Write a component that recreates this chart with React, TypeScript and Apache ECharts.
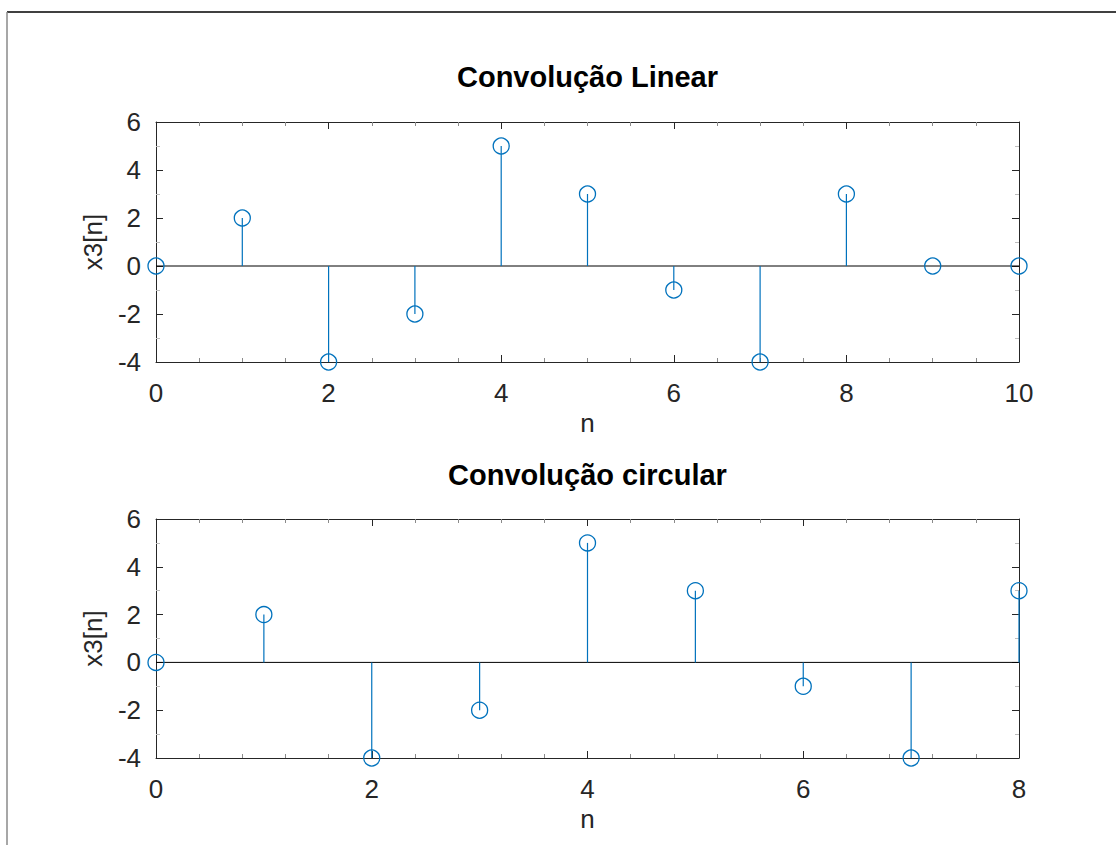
import React, { useEffect, useRef } from "react";
import * as echarts from "echarts";

const linearN = [0, 1, 2, 3, 4, 5, 6, 7, 8, 9, 10];
const linearX3 = [0, 2, -4, -2, 5, 3, -1, -4, 3, 0, 0];
const circularN = [0, 1, 2, 3, 4, 5, 6, 7, 8];
const circularX3 = [0, 2, -4, -2, 5, 3, -1, -4, 3];
const titles = ["Convolução Linear", "Convolução circular"];
const xLabel = "n";
const yLabel = "x3[n]";

const FONT = "'Liberation Sans', Arial, Helvetica, sans-serif";
const BLUE = "#0072BD";
const DARK = "#262626";

export default function App() {
  const ref = useRef<HTMLDivElement>(null);
  useEffect(() => {
    if (!ref.current) return;
    const chart = echarts.init(ref.current, undefined, { renderer: "svg" });

    const grids = [
      { left: 156, top: 122, width: 863, height: 240 },
      { left: 156, top: 519, width: 863, height: 239 },
    ];
    const xMax = [10, 8];
    const minorSplit = [4, 5];

    const xAxes: any[] = [];
    const yAxes: any[] = [];
    const series: any[] = [];

    [0, 1].forEach((g) => {
      const baseX = {
        type: "value",
        gridIndex: g,
        min: 0,
        max: xMax[g],
        interval: 2,
        splitLine: { show: false },
        axisLine: { show: true, onZero: false, lineStyle: { color: DARK, width: 1 } },
        axisTick: { show: true, inside: true, length: 7, lineStyle: { color: DARK } },
        minorTick: { show: true, splitNumber: minorSplit[g], length: 4, lineStyle: { color: "#8a8a8a" } },
      };
      xAxes.push({
        ...baseX,
        position: "bottom",
        name: xLabel,
        nameLocation: "middle",
        nameGap: 48,
        nameTextStyle: { fontFamily: FONT, fontSize: 26, color: DARK },
        axisLabel: { show: true, margin: 18, fontFamily: FONT, fontSize: 26, color: DARK },
      });
      xAxes.push({ ...baseX, position: "top", axisLabel: { show: false } });

      const baseY = {
        type: "value",
        gridIndex: g,
        min: -4,
        max: 6,
        interval: 2,
        splitLine: { show: false },
        axisLine: { show: true, onZero: false, lineStyle: { color: DARK, width: 1 } },
        axisTick: { show: true, inside: true, length: 7, lineStyle: { color: DARK } },
        minorTick: { show: true, splitNumber: 2, length: 4, lineStyle: { color: "#bdbdbd" } },
      };
      yAxes.push({
        ...baseY,
        position: "left",
        name: yLabel,
        nameLocation: "middle",
        nameGap: 50,
        nameTextStyle: { fontFamily: FONT, fontSize: 26, color: DARK },
        axisLabel: { show: true, margin: 15, fontFamily: FONT, fontSize: 26, color: DARK },
      });
      yAxes.push({ ...baseY, position: "right", axisLabel: { show: false } });
    });

    const datasets = [
      linearN.map((n, i) => [n, linearX3[i]]),
      circularN.map((n, i) => [n, circularX3[i]]),
    ];

    [0, 1].forEach((g) => {
      series.push({
        type: "line",
        xAxisIndex: g * 2,
        yAxisIndex: g * 2,
        data: [
          [0, 0],
          [xMax[g], 0],
        ],
        symbol: "none",
        lineStyle: { color: "#000000", width: 1 },
        z: 1,
        silent: true,
      });
      series.push({
        type: "custom",
        xAxisIndex: g * 2,
        yAxisIndex: g * 2,
        data: datasets[g],
        clip: false,
        z: 2,
        renderItem: (params: any, api: any) => {
          const x = api.value(0);
          const y = api.value(1);
          const p = api.coord([x, y]);
          const b = api.coord([x, 0]);
          return {
            type: "group",
            children: [
              {
                type: "line",
                shape: { x1: b[0], y1: b[1], x2: p[0], y2: p[1] },
                style: { stroke: BLUE, lineWidth: 1.2 },
              },
              {
                type: "circle",
                shape: { cx: p[0], cy: p[1], r: 8 },
                style: { fill: "none", stroke: BLUE, lineWidth: 1.3 },
              },
            ],
          };
        },
      });
    });

    chart.setOption({
      animation: false,
      backgroundColor: "#ffffff",
      grid: grids.map((g) => ({ ...g, containLabel: false, show: false })),
      xAxis: xAxes,
      yAxis: yAxes,
      series,
      graphic: [
        {
          type: "line",
          shape: { x1: 7, y1: 12, x2: 1116, y2: 12 },
          style: { stroke: "#000000", lineWidth: 1.5 },
        },
        {
          type: "line",
          shape: { x1: 7, y1: 12, x2: 7, y2: 845 },
          style: { stroke: "#8a8a8a", lineWidth: 1.5 },
        },
        {
          type: "text",
          x: 587.5,
          y: 62,
          style: {
            text: titles[0],
            font: `bold 29px ${FONT}`,
            fill: "#000000",
            textAlign: "center",
            textVerticalAlign: "top",
          },
        },
        {
          type: "text",
          x: 587.5,
          y: 460,
          style: {
            text: titles[1],
            font: `bold 29px ${FONT}`,
            fill: "#000000",
            textAlign: "center",
            textVerticalAlign: "top",
          },
        },
      ],
    });
    return () => chart.dispose();
  }, []);

  return (
    <div
      ref={ref}
      style={{ position: "fixed", left: 0, top: 0, width: 1116, height: 845, background: "#fff" }}
    />
  );
}
